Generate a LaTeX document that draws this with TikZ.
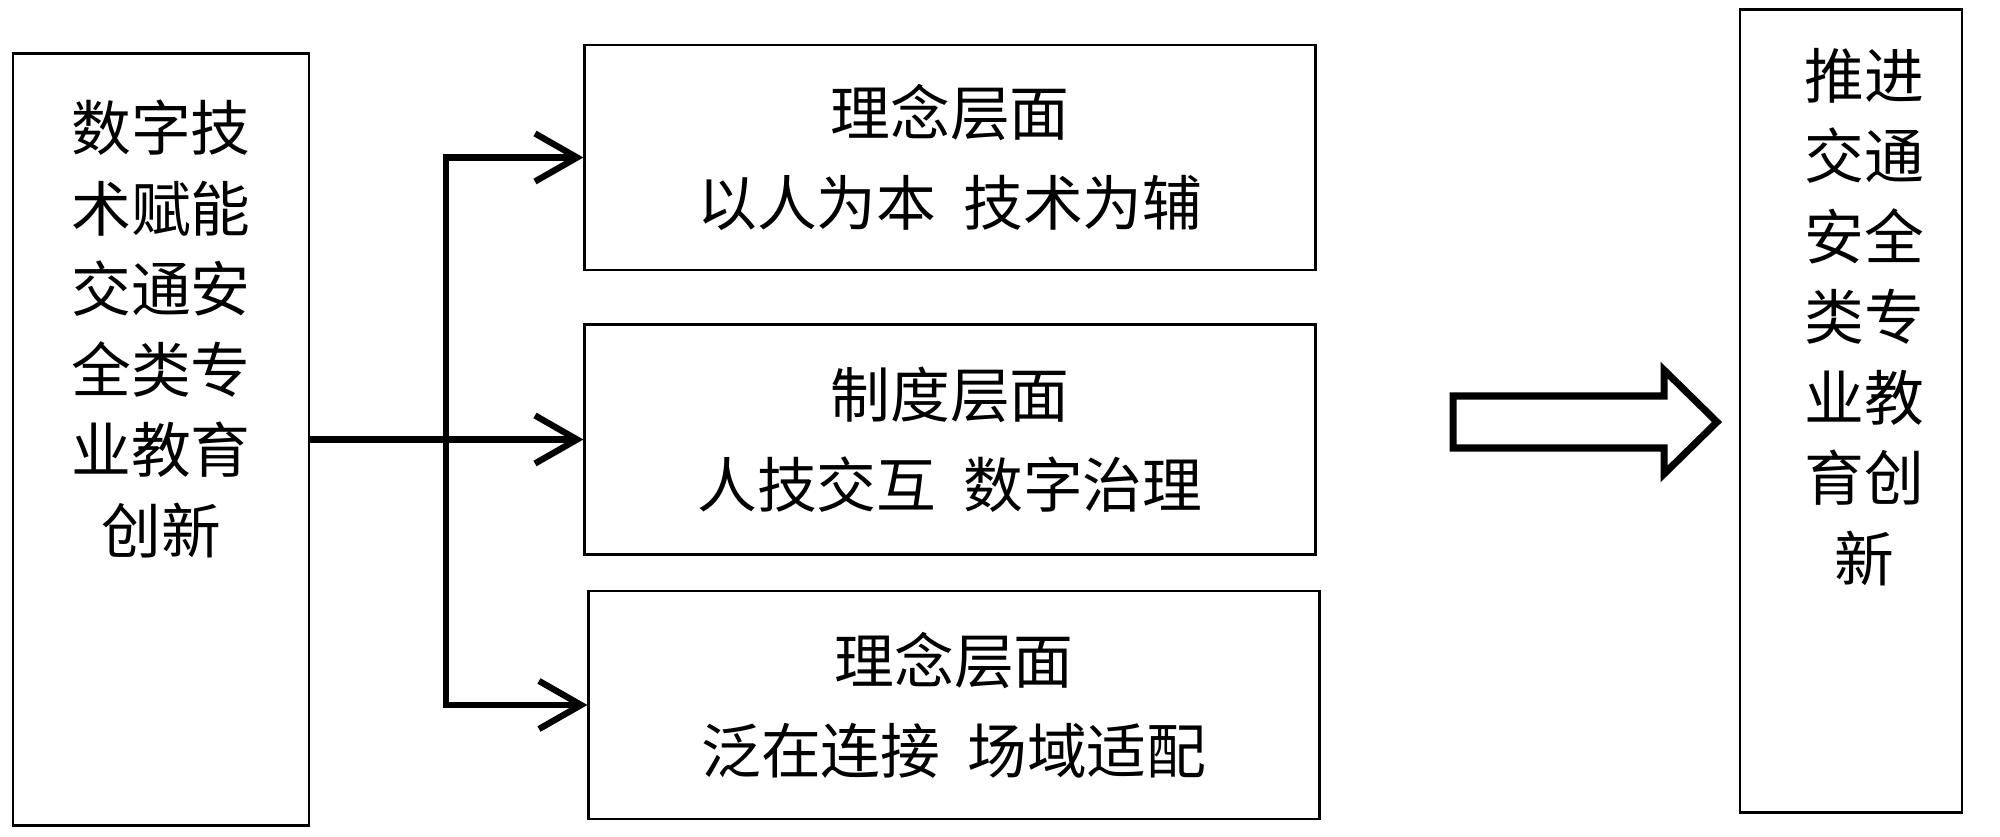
\documentclass[tikz,border=0pt]{standalone}
\usepackage{fontspec}
\setmainfont{Noto Sans CJK SC}
\usetikzlibrary{arrows.meta}
\begin{document}
\begin{tikzpicture}[x=0.01cm,y=-0.01cm,
  box/.style={draw,line width=0.8pt,inner sep=0pt},
  conn/.style={line width=1.8pt},
  barb/.style={-{Straight Barb[length=0.42cm,width=0.48cm,line width=1.8pt]}},
  coltext/.style={align=center,inner sep=0pt,font=\fontsize{17pt}{22.9pt}\selectfont},
  boxtext/.style={align=center,font=\fontsize{17pt}{25.6pt}\selectfont}]
\useasboundingbox (0,0) rectangle (2000,837);
% left box
\node[box,minimum width=2.96cm,minimum height=7.71cm] (L) at (161,439.5) {};
\node[coltext] (LT) at (161,329) {数字技\\术赋能\\交通安\\全类专\\业教育\\创新};
% middle boxes
\node[box,boxtext,minimum width=7.30cm,minimum height=2.25cm] (B1) at (950,157.5) {理念层面\\以人为本\hspace{0.45em}技术为辅};
\node[box,boxtext,minimum width=7.30cm,minimum height=2.30cm] (B2) at (950,439.5) {制度层面\\人技交互\hspace{0.45em}数字治理};
\node[box,boxtext,minimum width=7.30cm,minimum height=2.28cm] (B3) at (954,705) {理念层面\\泛在连接\hspace{0.45em}场域适配};
% right box
\node[box,minimum width=2.22cm,minimum height=8.02cm] (R) at (1851,411) {};
\node[coltext] (RT) at (1864,317) {推进\\交通\\安全\\类专\\业教\\育创\\新};
% connectors
\coordinate (J) at (446,439.5);
\draw[conn] (L.east) -- (J);
\draw[conn,barb] (J) |- (B1.west);
\draw[conn,barb] (J) -- (B2.west);
\draw[conn,barb] (J) |- (B3.west);
% block arrow
\draw[line width=2pt,line join=miter] (1453,396) -- (1664,396) -- (1664,370) -- (1717,422) -- (1664,474) -- (1664,448) -- (1453,448) -- cycle;
\end{tikzpicture}
\end{document}
